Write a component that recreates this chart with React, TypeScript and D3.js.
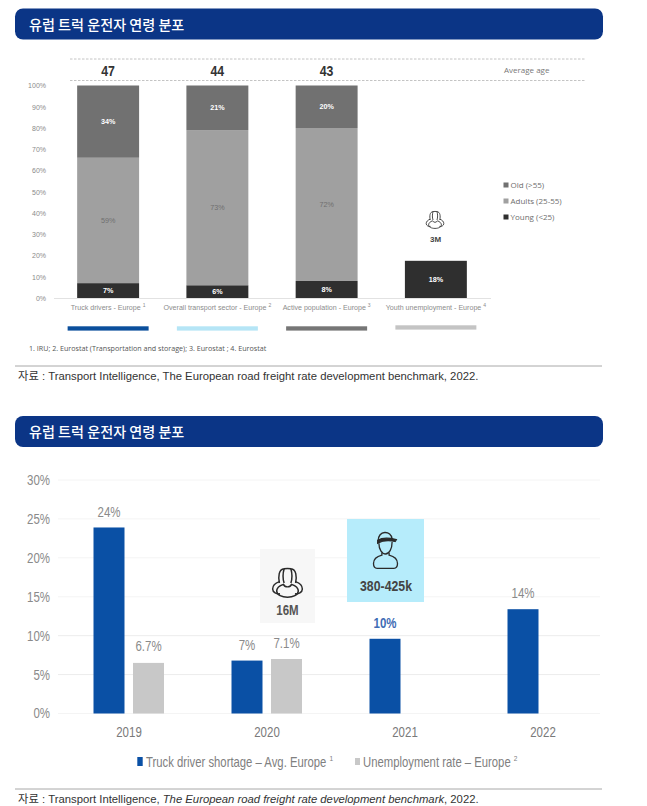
import React, { useEffect, useRef } from 'react'
import * as d3 from 'd3'

const titleText = '유럽 트럭 운전자 연령 분포'

// top chart
const ageGroups = ['Young', 'Adults', 'Old']
const ageCategories = [
  'Truck drivers - Europe',
  'Overall transport sector - Europe',
  'Active population - Europe',
  'Youth unemployment - Europe',
]
const ageNotes = ['1', '2', '3', '4']
const youngShare = [7, 6, 8, 17.5]
const adultShare = [59, 73, 72, 0]
const oldShare = [34, 21, 20, 0]
const youngLabels = ['7%', '6%', '8%', '18%']
const adultLabels = ['59%', '73%', '72%', '']
const oldLabels = ['34%', '21%', '20%', '']
const averageAge = ['47', '44', '43', '']
const keyColors = ['#0b4f9c', '#b5e5f6', '#767676', '#c4c4c4']
const ageLegend = ['Old (>55)', 'Adults (25-55)', 'Young (<25)']
const ageColors = ['#2f2f2f', '#a0a0a0', '#717171']
const legendColors = ['#717171', '#a0a0a0', '#2f2f2f']
const ageTicks = [0, 10, 20, 30, 40, 50, 60, 70, 80, 90, 100]

// bottom chart
const years = ['2019', '2020', '2021', '2022']
const shortage = [23.9, 6.8, 9.6, 13.4]
const unemployment = [6.5, 7.0, null, null]
const shortageLabels = ['24%', '7%', '10%', '14%']
const unemploymentLabels = ['6.7%', '7.1%', '', '']
const rateTicks = [0, 5, 10, 15, 20, 25, 30]

const arial = '"Liberation Sans", "Noto Sans CJK KR", sans-serif'
const korean = '"Noto Sans CJK KR", sans-serif'
const humanist = '"Open Sans", "Noto Sans", sans-serif'
const squeeze = 0.82 // no condensed font installed, so squash Liberation Sans

const peopleIcon = (g, cx, cy, s, color) => {
  const icon = g
    .append('g')
    .attr('transform', `translate(${cx},${cy}) scale(${s})`)
    .attr('fill', 'none')
    .attr('stroke', color)
    .attr('stroke-width', 1.1)
  // back row heads
  icon.append('path').attr('d', 'M-6,0 C-7,-5 -6.5,-10 -2.5,-10.5 C-1,-10.8 1,-10.8 2.5,-10.5 C6.5,-10 7,-5 6,0')
  icon.append('path').attr('d', 'M-2.5,-10.5 C-3.5,-7 -3.5,-3 -2.5,0 M2.5,-10.5 C3.5,-7 3.5,-3 2.5,0')
  // shoulders
  icon.append('path').attr('d', 'M-6,-1 C-9,0 -11,2 -11,4.5 C-11,7 -8,8.5 -5.5,8 M6,-1 C9,0 11,2 11,4.5 C11,7 8,8.5 5.5,8')
  // front figure
  icon.append('path').attr('d', 'M-3,1 C-2,3.5 2,3.5 3,1 C6,2 8,4 8,6 C8,9 4,10.5 0,10.5 C-4,10.5 -8,9 -8,6 C-8,4 -6,2 -3,1 Z')
}

const workerIcon = (g, cx, cy, s, color) => {
  const icon = g
    .append('g')
    .attr('transform', `translate(${cx},${cy}) scale(${s})`)
    .attr('fill', 'none')
    .attr('stroke', color)
    .attr('stroke-width', 1.1)
  icon.append('path').attr('d', 'M-6,-6 C-6.5,-15 5,-15 5.5,-7.5').attr('stroke-width', 1.2)
  icon.append('path').attr('d', 'M-6.5,-6.5 C-3,-8.5 3,-8.5 9,-7 L8,-5.5 C3,-6.5 -3,-6 -6.5,-4 Z').attr('fill', color)
  icon.append('path').attr('d', 'M-5.5,-4 C-5.5,1 -3,5 0,5 C3,5 5.5,1 5.5,-5')
  icon.append('path').attr('d', 'M-3,4 L-3,6 C-7,7 -10,9 -10,13 C-10,16 -8.5,17 -7,17 L7,17 C8.5,17 10,16 10,13 C10,9 7,7 3,6 L3,4')
}

const App = () => {
  const svgRef = useRef(null)

  useEffect(() => {
    const svg = d3.select(svgRef.current)
    svg.selectAll('*').remove()

    const narrowText = (x, y, size, fill, anchor = 'middle') =>
      svg.append('text')
        .attr('transform', `translate(${x},${y}) scale(${squeeze},1)`)
        .attr('text-anchor', anchor)
        .attr('font-family', arial)
        .attr('font-size', size)
        .attr('fill', fill)

    const header = (y, h) => {
      svg.append('rect').attr('x', 15).attr('y', y).attr('width', 588).attr('height', h).attr('rx', 8).attr('fill', '#0b3586')
      svg.append('text').attr('x', 29).attr('y', y + h / 2 + 5.5).attr('fill', '#fff')
        .attr('font-family', korean).attr('font-weight', 500).attr('font-size', 14.1).text(titleText)
    }
    const source = (y, italic) => {
      svg.append('line').attr('x1', 15).attr('x2', 602).attr('y1', y).attr('y2', y).attr('stroke', '#a8a8a8')
      const t = svg.append('text').attr('x', 18).attr('y', y + 14).attr('fill', '#333')
        .attr('font-family', arial).attr('font-size', 11.3)
      t.append('tspan').text('자료 : Transport Intelligence, ')
      t.append('tspan').attr('font-style', italic ? 'italic' : 'normal').text('The European road freight rate development benchmark')
      t.append('tspan').text(', 2022.')
    }

    // ---- top chart
    header(8.5, 31)
    const x1 = d3.scaleBand().domain(ageCategories).range([53.5, 490.5]).paddingInner(0.433).paddingOuter(0.2165)
    const y1 = d3.scaleLinear().domain([0, 100]).range([298, 85.5])

    const rows = ageCategories.map((c, i) => ({ c, i, Young: youngShare[i], Adults: adultShare[i], Old: oldShare[i] }))
    const stacked = d3.stack().keys(ageGroups)(rows)
    const labels = [youngLabels, adultLabels, oldLabels]
    const labelColors = ['#fff', '#6f6f6f', '#fff']

    stacked.forEach((layer, k) => {
      svg.append('g').selectAll('rect').data(layer).join('rect')
        .attr('x', d => x1(d.data.c))
        .attr('width', x1.bandwidth())
        .attr('y', d => y1(d[1]))
        .attr('height', d => y1(d[0]) - y1(d[1]))
        .attr('fill', ageColors[k])
      svg.append('g').selectAll('text').data(layer).join('text')
        .attr('x', d => x1(d.data.c) + x1.bandwidth() / 2)
        .attr('y', d => (y1(d[0]) + y1(d[1])) / 2 + 2.5)
        .attr('text-anchor', 'middle')
        .attr('font-family', arial)
        .attr('font-size', 7.2)
        .attr('font-weight', k === 1 ? 400 : 700)
        .attr('fill', labelColors[k])
        .text(d => labels[k][d.data.i])
    })

    const axis1 = svg.append('g').attr('transform', 'translate(54,0)')
      .call(d3.axisLeft(y1).tickValues(ageTicks).tickFormat(d => `${d}%`).tickSize(0).tickPadding(8))
    axis1.select('.domain').remove()
    axis1.selectAll('text').attr('font-family', arial).attr('font-size', 7).attr('fill', '#8a8a8a')

    svg.append('line').attr('x1', 54).attr('x2', 491).attr('y1', 298.5).attr('y2', 298.5).attr('stroke', '#e2e2e2')

    ageCategories.forEach((c, i) => {
      const t = svg.append('text')
        .attr('x', x1(c) + x1.bandwidth() / 2)
        .attr('y', 309.5)
        .attr('text-anchor', 'middle')
        .attr('font-family', arial)
        .attr('font-size', 7.1)
        .attr('fill', '#8c8c8c')
      t.append('tspan').text(c + ' ')
      t.append('tspan').attr('dy', -2.5).attr('font-size', 5).text(ageNotes[i])
      svg.append('rect')
        .attr('x', x1(c) + x1.bandwidth() / 2 - 40.5)
        .attr('y', i === 3 ? 325.3 : 326.3)
        .attr('width', 81)
        .attr('height', 4.3)
        .attr('fill', keyColors[i])
      narrowText(x1(c) + x1.bandwidth() / 2, 76, 15, '#333').attr('font-weight', 700).text(averageAge[i])
    })

    ;[59, 80.5].forEach(y => {
      svg.append('line').attr('x1', 70).attr('x2', 586).attr('y1', y).attr('y2', y)
        .attr('stroke', '#b5b5b5').attr('stroke-width', 0.8).attr('stroke-dasharray', '2.5 1.5')
    })
    svg.append('text').attr('x', 504).attr('y', 72.7).attr('font-family', humanist).attr('font-weight', 500)
      .attr('font-size', 8).attr('fill', '#777').text('Average age')

    const legendY = d3.scalePoint().domain(ageLegend).range([185, 217])
    ageLegend.forEach((d, i) => {
      svg.append('rect').attr('x', 503.5).attr('y', legendY(d) - 2.5).attr('width', 5).attr('height', 5).attr('fill', legendColors[i])
      svg.append('text').attr('x', 510.5).attr('y', legendY(d) + 2.8).attr('font-family', humanist).attr('font-weight', 500)
        .attr('font-size', 8).attr('fill', '#6e6e6e').text(d)
    })

    peopleIcon(svg, 435, 220, 0.8, '#333')
    svg.append('text').attr('x', 435.5).attr('y', 241.5).attr('text-anchor', 'middle').attr('font-family', arial)
      .attr('font-weight', 700).attr('font-size', 8).attr('fill', '#444').text('3M')

    svg.append('text').attr('x', 29).attr('y', 350.5).attr('font-family', humanist).attr('font-weight', 500)
      .attr('font-size', 7.15).attr('fill', '#555')
      .text('1. IRU; 2. Eurostat (Transportation and storage); 3. Eurostat ; 4. Eurostat')

    source(366, false)

    // ---- bottom chart
    header(416, 31)
    const x2 = d3.scaleBand().domain(years).range([60, 612])
    const y2 = d3.scaleLinear().domain([0, 30]).range([713.5, 480])
    const centre = d => x2(d) + x2.bandwidth() / 2

    svg.append('g').selectAll('line').data(rateTicks).join('line')
      .attr('x1', 58).attr('x2', 600)
      .attr('y1', d => y2(d)).attr('y2', d => y2(d))
      .attr('stroke', d => (d === 5 || d === 10 ? '#ececec' : '#f4f4f4'))

    const axis2 = svg.append('g').attr('transform', 'translate(50,0)')
      .call(d3.axisLeft(y2).tickValues(rateTicks).tickFormat(d => `${d}%`).tickSize(0).tickPadding(0))
    axis2.select('.domain').remove()
    axis2.selectAll('text').attr('font-family', arial).attr('font-size', 14).attr('fill', '#8a8a8a')
      .attr('transform', `scale(${squeeze},1)`)

    svg.append('g').selectAll('rect').data(years).join('rect')
      .attr('x', d => centre(d) - 35.5)
      .attr('width', 31)
      .attr('y', (d, i) => y2(shortage[i]))
      .attr('height', (d, i) => y2(0) - y2(shortage[i]))
      .attr('fill', '#0a50a5')
    svg.append('g').selectAll('rect').data(years.filter((d, i) => unemployment[i] !== null)).join('rect')
      .attr('x', d => centre(d) + 4)
      .attr('width', 31)
      .attr('y', (d, i) => y2(unemployment[i]))
      .attr('height', (d, i) => y2(0) - y2(unemployment[i]))
      .attr('fill', '#c8c8c8')

    // callouts sit over the gridlines
    svg.append('rect').attr('x', 260).attr('y', 549).attr('width', 55).attr('height', 74).attr('fill', '#f7f7f7')
    svg.append('rect').attr('x', 347).attr('y', 519).attr('width', 77).attr('height', 83).attr('fill', '#b6ecfb')
    peopleIcon(svg, 287.5, 583, 1.35, '#2a2a2a')
    workerIcon(svg, 385.5, 548, 1.2, '#2a2a2a')
    narrowText(287.5, 615, 14, '#555').attr('font-weight', 700).text('16M')
    narrowText(386, 590.5, 15, '#444').attr('font-weight', 700).text('380-425k')

    years.forEach((d, i) => {
      narrowText(centre(d) - 20, i === 2 ? 628 : i === 3 ? 598 : i === 0 ? 517 : 650, 14, i === 2 ? '#3f6db5' : '#8a8a8a')
        .attr('font-weight', i === 2 ? 700 : 400)
        .text(shortageLabels[i])
      if (unemploymentLabels[i]) {
        narrowText(centre(d) + 19.5, i === 0 ? 651 : 648, 14, '#8a8a8a').text(unemploymentLabels[i])
      }
      narrowText(centre(d), 737, 14, '#7a7a7a').text(d)
    })

    svg.append('rect').attr('x', 137.3).attr('y', 757).attr('width', 5.4).attr('height', 9).attr('fill', '#0a50a5')
    const lg1 = narrowText(146, 767, 13.8, '#808080', 'start')
    lg1.append('tspan').text('Truck driver shortage – Avg. Europe ')
    lg1.append('tspan').attr('dy', -6).attr('font-size', 8).text('1')
    svg.append('rect').attr('x', 355).attr('y', 758).attr('width', 5).attr('height', 7).attr('fill', '#c8c8c8')
    const lg2 = narrowText(363, 767, 13.8, '#808080', 'start')
    lg2.append('tspan').text('Unemployment  rate – Europe ')
    lg2.append('tspan').attr('dy', -6).attr('font-size', 8).text('2')

    source(789, true)
  }, [])

  return <svg ref={svgRef} width={647} height={806} style={{ position: 'absolute', left: 0, top: 0, display: 'block' }} />
}

export default App
